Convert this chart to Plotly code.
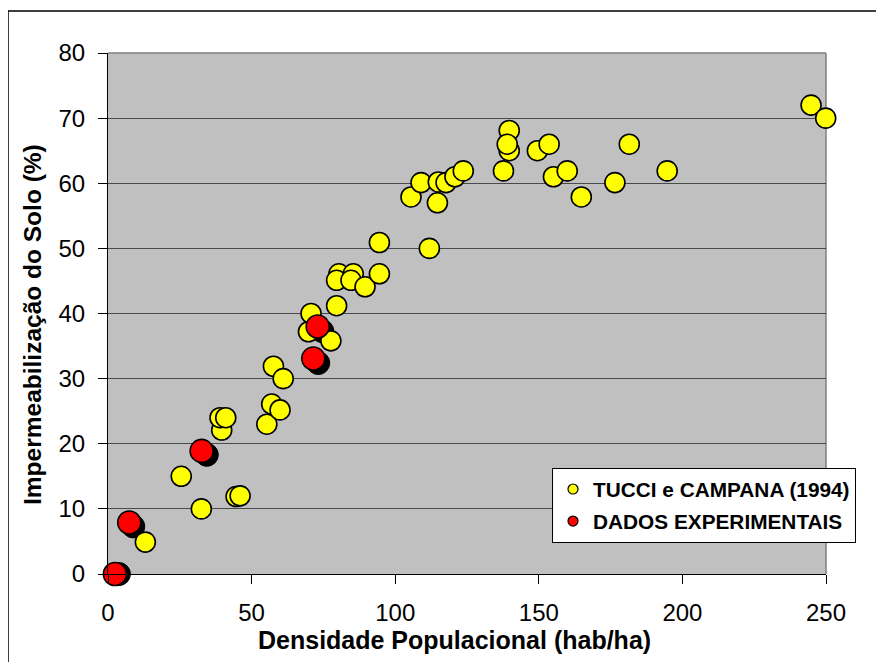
import plotly.graph_objects as go

# Data
tucci_x = [13, 32.5, 25.5, 44.6, 46, 39.6, 39, 41, 55.3, 57, 59.9, 57.6, 61, 69.8, 70.7,
           77.6, 79.6, 80.4, 79.6, 85.4, 84.6, 89.5, 94.5, 94.5, 111.9, 105.5, 109, 114.7,
           115, 117.7, 120.8, 123.7, 137.7, 139.7, 139.7, 139, 149.5, 153.6, 155.1, 159.9,
           164.8, 181.5, 176.5, 194.7, 244.8, 249.9]
tucci_y = [4.9, 10, 15, 11.9, 12, 22.1, 24, 24, 23, 26.1, 25.2, 31.9, 30, 37.2, 40,
           35.8, 41.2, 46.1, 45.1, 46.1, 45.1, 44.1, 46.1, 50.9, 50, 57.9, 60.1, 57,
           60.2, 60.1, 61, 61.9, 61.9, 68.1, 65, 66, 65, 66, 61, 61.9,
           57.9, 66, 60.1, 61.9, 72, 70]

exp_x = [2.4, 7.4, 32.6, 71.5, 73]
exp_y = [0, 7.9, 18.9, 33.1, 38]

shadow_x = [3.8, 8.8, 34.4, 73.2, 74.6]
shadow_y = [0, 7.3, 18.3, 32.4, 37.3]

x_ticks = [0, 50, 100, 150, 200, 250]
y_ticks = [0, 10, 20, 30, 40, 50, 60, 70, 80]

FONT = "Liberation Sans, Arial, sans-serif"

fig = go.Figure()

fig.add_trace(go.Scatter(x=shadow_x, y=shadow_y, mode="markers", showlegend=False,
                         cliponaxis=False, hoverinfo="skip",
                         marker=dict(size=23, color="black", line=dict(color="black", width=1))))
fig.add_trace(go.Scatter(x=tucci_x, y=tucci_y, mode="markers", showlegend=False,
                         cliponaxis=False,
                         marker=dict(size=20, color="#FFFF00", line=dict(color="black", width=1.6))))
fig.add_trace(go.Scatter(x=exp_x, y=exp_y, mode="markers", showlegend=False,
                         cliponaxis=False,
                         marker=dict(size=23, color="#FF0000", line=dict(color="black", width=1.6))))

# legend entries (small symbols as in the reference)
fig.add_trace(go.Scatter(x=[None], y=[None], mode="markers", name="TUCCI e CAMPANA (1994)",
                         legendgroup="a",
                         marker=dict(size=10, color="#FFFF00", line=dict(color="black", width=1.2))))
fig.add_trace(go.Scatter(x=[None], y=[None], mode="markers", name="DADOS EXPERIMENTAIS",
                         legendgroup="b",
                         marker=dict(size=10, color="#FF0000", line=dict(color="black", width=1.2))))

OFF = 8  # page body margin
L, R, T, B = 108 - OFF, 826 - OFF, 53 - OFF, 574 - OFF
W, H = 884, 662

def px(xp):
    return (xp - OFF - L) / (R - L)

def py(yp):
    return (B - (yp - OFF)) / (B - T)

fig.update_layout(
    width=W, height=H,
    margin=dict(l=L, r=W - R, t=T, b=H - B),
    paper_bgcolor="white",
    plot_bgcolor="#C0C0C0",
    font=dict(family=FONT, color="black"),
    showlegend=True,
    legend=dict(x=px(552), y=py(468), xanchor="left", yanchor="top",
                bgcolor="white", bordercolor="black", borderwidth=1,
                font=dict(family=FONT, size=20.8, color="black", weight="bold"),
                tracegroupgap=2, itemsizing="trace"),
    xaxis=dict(range=[0, 250], tickvals=x_ticks, ticks="outside", ticklen=9,
               tickcolor="black", showgrid=False, zeroline=False, showline=True,
               linecolor="black", linewidth=1, tickfont=dict(size=24, family=FONT),
               ticklabelstandoff=8),
    yaxis=dict(range=[0, 80], tickvals=y_ticks, ticks="outside", ticklen=9,
               tickcolor="black", showgrid=True, gridcolor="#4a4a4a", gridwidth=1,
               zeroline=False, showline=True, linecolor="black", linewidth=1,
               tickfont=dict(size=24, family=FONT), ticklabelstandoff=8),
    shapes=[
        dict(type="line", xref="paper", yref="paper", x0=0, x1=1, y0=1, y1=1,
             line=dict(color="#808080", width=1.5), layer="below"),
        dict(type="line", xref="paper", yref="paper", x0=1, x1=1, y0=0, y1=1,
             line=dict(color="#808080", width=1.5), layer="below"),
        dict(type="rect", xref="paper", yref="paper",
             x0=px(8), x1=px(900), y0=py(680), y1=py(11),
             line=dict(color="black", width=1.5), fillcolor="rgba(0,0,0,0)"),
    ],
    annotations=[
        dict(text="<b>Densidade Populacional (hab/ha)</b>", xref="paper", yref="paper",
             x=px(454), y=py(640), showarrow=False, xanchor="center", yanchor="middle",
             font=dict(size=25, family=FONT)),
        dict(text="<b>Impermeabilização do Solo (%)</b>", xref="paper", yref="paper",
             x=px(32), y=py(325), showarrow=False, xanchor="center", yanchor="middle",
             textangle=-90, font=dict(size=24.5, family=FONT)),
    ],
)

fig.write_html("out.html")
